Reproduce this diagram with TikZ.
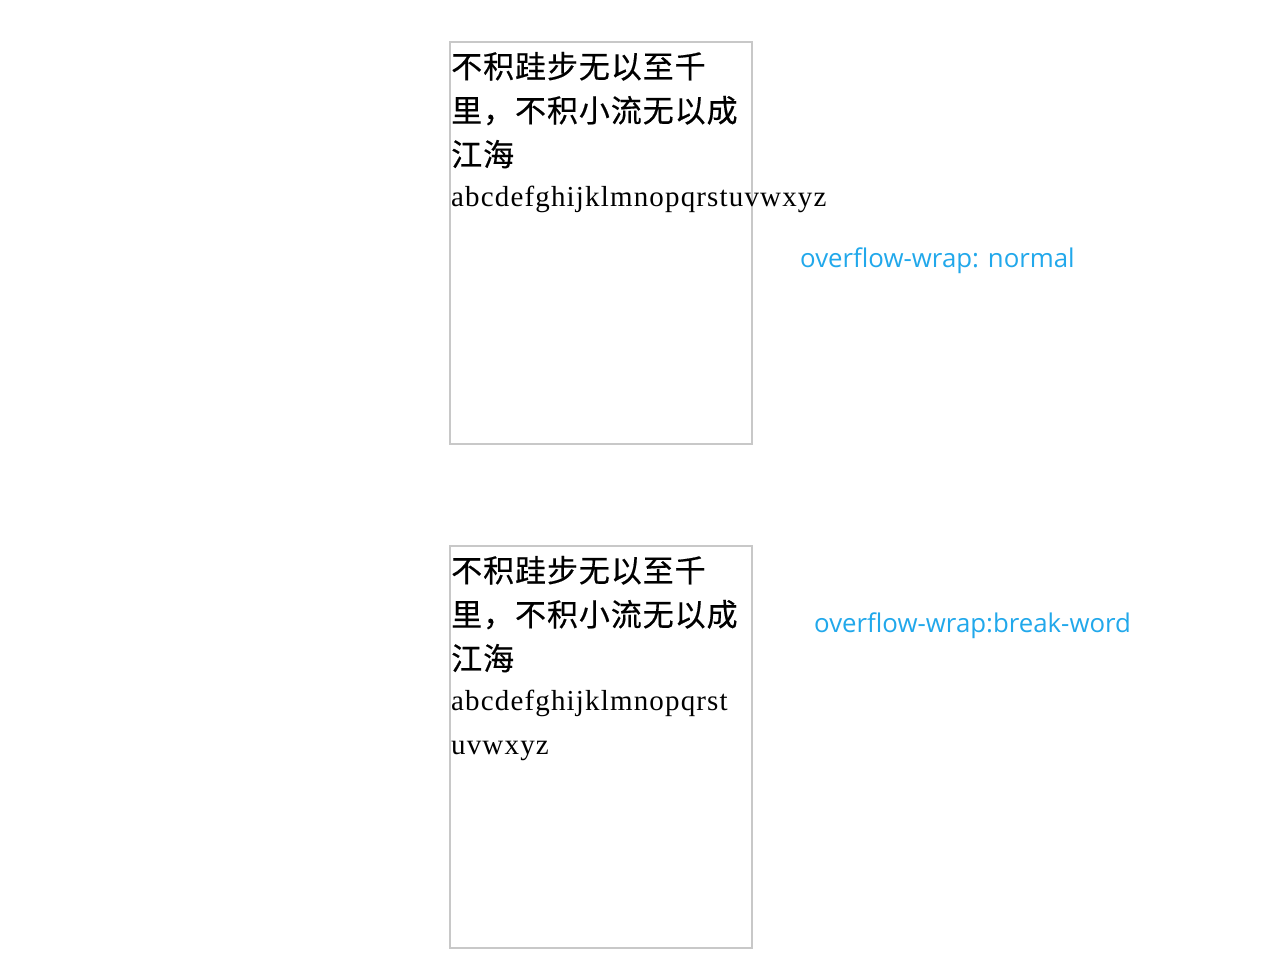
\documentclass[tikz,border=0pt]{standalone}
\usepackage{fontspec}
\setmainfont{Liberation Serif}
\newfontfamily\latfont[LetterSpace=4]{Liberation Serif}
\newfontfamily\cjkfont[LetterSpace=3,FakeBold=0.4]{Noto Sans CJK SC}
\newfontfamily\labelfont{Open Sans}
\definecolor{boxgray}{RGB}{200,200,200}
\definecolor{labelblue}{RGB}{33,168,235}
\begin{document}
\begin{tikzpicture}[x=1pt,y=-1pt,
  frame/.style={draw=boxgray,line width=2pt,minimum width=302pt,minimum height=402pt,inner sep=0pt,anchor=north west},
  cjkline/.style={anchor=base west,inner sep=0pt,font=\cjkfont\fontsize{31}{36}\selectfont},
  latline/.style={anchor=base west,inner sep=0pt,font=\latfont\fontsize{29}{34}\selectfont},
  caption/.style={anchor=base west,inner sep=0pt,text=labelblue,font=\labelfont\fontsize{25.8}{30}\selectfont}]
\useasboundingbox[fill=white] (0,0) rectangle (1264,980);
% box 1
\node[frame] (box1) at (449,41) {};
\node[cjkline] (b1l1) at (451,78) {不积跬步无以至千};
\node[cjkline] (b1l2) at (451,122) {里，不积小流无以成};
\node[cjkline] (b1l3) at (451,166) {江海};
\node[latline] (b1l4) at (451,206) {abcdefghijklmnopqrstuvwxyz};
\node[caption] (cap1) at (800,267) {overflow-wrap: normal};
% box 2
\node[frame] (box2) at (449,545) {};
\node[cjkline] (b2l1) at (451,582) {不积跬步无以至千};
\node[cjkline] (b2l2) at (451,626) {里，不积小流无以成};
\node[cjkline] (b2l3) at (451,670) {江海};
\node[latline] (b2l4) at (451,710) {abcdefghijklmnopqrst};
\node[latline] (b2l5) at (451,754) {uvwxyz};
\node[caption] (cap2) at (814,632) {overflow-wrap:break-word};
\end{tikzpicture}
\end{document}
